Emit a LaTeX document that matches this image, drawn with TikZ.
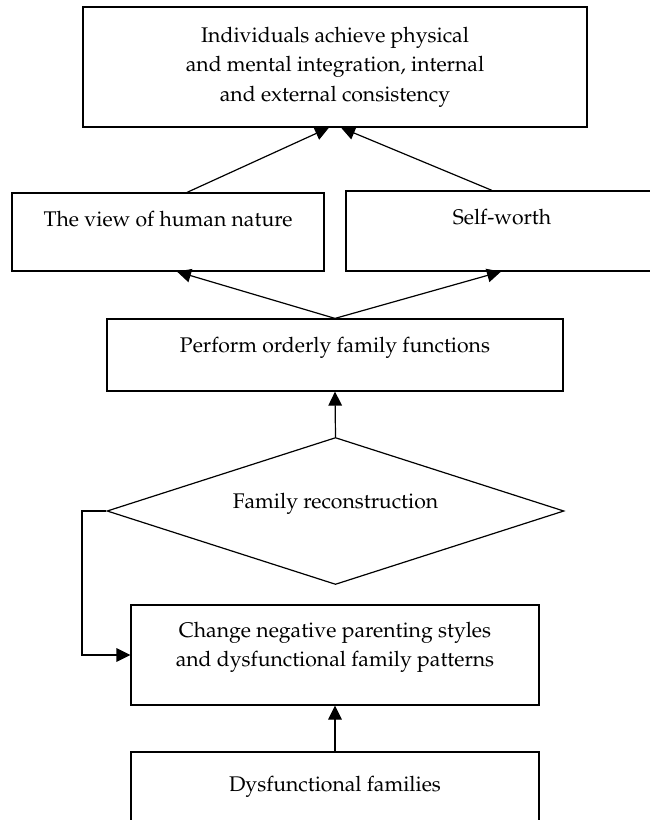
\documentclass[tikz,border=0pt]{standalone}
\usepackage[T1]{fontenc}
\usepackage{mathpazo}
\usetikzlibrary{shapes.geometric,arrows.meta}

\begin{document}
\begin{tikzpicture}[x=0.5pt,y=-0.5pt,line width=0.6pt,
    box/.style={draw, rectangle, inner sep=0pt},
    txt/.style={anchor=north, inner sep=0pt, align=center, font=\fontsize{10.6}{14.8}\selectfont},
    arr/.style={-{Triangle[length=7pt,width=6.8pt]}}]
    \useasboundingbox (0,0) rectangle (649,820);
    % boxes
    \node[box, minimum width=252pt, minimum height=60pt] (goal) at (335,67) {};
    \node[box, minimum width=156pt, minimum height=39pt] (view) at (168,232) {};
    \node[box, minimum width=156pt, minimum height=40pt] (worth) at (502,231) {};
    \node[box, minimum width=228pt, minimum height=36pt] (perform) at (335,355) {};
    \node[draw, diamond, inner sep=0pt, minimum width=228.5pt, minimum height=73.5pt] (recon) at (335.5,511) {};
    \node[box, minimum width=204pt, minimum height=50pt] (change) at (335,655) {};
    \node[box, minimum width=204pt, minimum height=50pt] (dysf) at (335,802) {};
    % texts
    \node[txt] (goaltxt) at ([yshift=-10pt]goal.north) {Individuals achieve physical\\and mental integration, internal\\and external consistency};
    \node[txt] (viewtxt) at ([yshift=-9pt]view.north) {The view of human nature};
    \node[txt] (worthtxt) at ([yshift=-9pt]worth.north) {Self-worth};
    \node[txt] (performtxt) at ([yshift=-9pt]perform.north) {Perform orderly family functions};
    \node[txt] (recontxt) at ([yshift=9pt]recon.center) {Family reconstruction};
    \node[txt] (changetxt) at ([yshift=-8.5pt]change.north) {Change negative parenting styles\\and dysfunctional family patterns};
    \node[txt] (dysftxt) at ([yshift=-12pt]dysf.north) {Dysfunctional families};
    % arrows
    \draw[arr] ([xshift=9.5pt]view.north) -- ([xshift=-3pt]goal.south);
    \draw[arr] ([xshift=-5pt]worth.north) -- ([xshift=3pt]goal.south);
    \draw[arr] (perform.north) -- ([xshift=4.5pt]view.south);
    \draw[arr] (perform.north) -- ([xshift=-0.5pt]worth.south);
    \draw[arr] (recon.north) -- (perform.south);
    \draw[arr] (dysf.north) -- (change.south);
    \coordinate (bend) at (82,511);
    \draw[arr] (recon.west) -- (bend) |- (change.west);
\end{tikzpicture}
\end{document}
